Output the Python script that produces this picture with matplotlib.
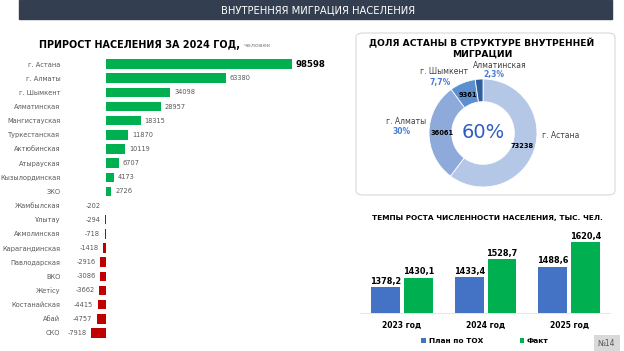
import numpy as np
import matplotlib.pyplot as plt
from matplotlib.patches import Rectangle, FancyBboxPatch

plt.rcParams['font.family'] = ['DejaVu Sans']

# --- данные ---
regions = ['г. Астана', 'г. Алматы', 'г. Шымкент', 'Алматинская', 'Мангистауская',
           'Туркестанская', 'Актюбинская', 'Атырауская', 'Кызылординская', 'ЗКО',
           'Жамбылская', 'Ұлытау', 'Акмолинская', 'Карагандинская', 'Павлодарская',
           'ВКО', 'Жетісу', 'Костанайская', 'Абай', 'СКО']
growth = [98598, 63380, 34098, 28957, 18315, 11870, 10119, 6707, 4173, 2726,
          -202, -294, -718, -1418, -2916, -3086, -3662, -4415, -4757, -7918]

donut_names = ['г. Астана', 'г. Алматы', 'г. Шымкент', 'Алматинская']
donut_values = [73238, 36061, 9361, 2800]
donut_pct = ['60%', '30%', '7,7%', '2,3%']

years = ['2023 год', '2024 год', '2025 год']
plan = [1378.2, 1433.4, 1488.6]
fact = [1430.1, 1528.7, 1620.4]

W, H = 624, 351
fig = plt.figure(figsize=(W / 100, H / 100), dpi=100)


def px_axes(x0, y0, x1, y1):
    return fig.add_axes([x0 / W, 1 - y1 / H, (x1 - x0) / W, (y1 - y0) / H])


def ftext(x, y, s, **kw):
    fig.text(x / W, 1 - y / H, s, **kw)


# шапка
fig.add_artist(Rectangle((19 / W, 1 - 19 / H), (612 - 19) / W, 19 / H,
                         transform=fig.transFigure, color='#333f50', zorder=-2))
ftext(318, 10, 'ВНУТРЕННЯЯ МИГРАЦИЯ НАСЕЛЕНИЯ', color='white', fontsize=7.2,
      ha='center', va='center')

# --- левый график ---
ax1 = px_axes(66, 57, 318, 340)
y = np.arange(len(regions))
colors = ['#00b050' if v > 0 else '#c00000' for v in growth]
ax1.barh(y, growth, height=0.67, color=colors)
ax1.set_ylim(len(regions) - 0.5, -0.5)
ax1.set_xlim(-21200, 112360)
ax1.set_yticks(y)
ax1.set_yticklabels(regions, fontsize=4.8, color='#595959')
ax1.tick_params(length=0, pad=4)
ax1.set_xticks([])
for s in ax1.spines.values():
    s.set_visible(False)
for i, v in enumerate(growth):
    if i == 0:
        ax1.text(v + 2100, i, f'{v}', va='center', ha='left', fontsize=6.2,
                 fontweight='bold', color='black')
    elif v > 0:
        ax1.text(v + 2100, i, f'{v}', va='center', ha='left', fontsize=4.8, color='#595959')
    else:
        ax1.text(v - 2400, i, f'{v}', va='center', ha='right', fontsize=4.8, color='#595959')

ftext(39, 45, 'ПРИРОСТ НАСЕЛЕНИЯ ЗА 2024 ГОД,', fontsize=6.9, fontweight='bold',
      va='center', ha='left')
ftext(244, 45.5, 'человек', fontsize=4.6, color='#7f7f7f', va='center', ha='left')

# --- кольцевая диаграмма ---
fig.add_artist(FancyBboxPatch((356 / W, 1 - 195 / H), (615 - 356) / W, (195 - 33) / H,
                              boxstyle='round,pad=0,rounding_size=0.012',
                              transform=fig.transFigure, facecolor='white',
                              edgecolor='#d9d9d9', linewidth=0.8, zorder=-1))
ftext(482, 48, 'ДОЛЯ АСТАНЫ В СТРУКТУРЕ ВНУТРЕННЕЙ\nМИГРАЦИИ', fontsize=6.6,
      fontweight='bold', ha='center', va='center', linespacing=1.15)

ax2 = px_axes(429, 79, 537, 187)
ax2.patch.set_visible(False)
donut_colors = ['#b4c7e7', '#8eaadb', '#5b8fd0', '#2e5f9e']
wedges, _ = ax2.pie(donut_values, colors=donut_colors, startangle=90,
                    counterclock=False, radius=1,
                    wedgeprops=dict(width=0.42, edgecolor='white', linewidth=0.6))
ax2.set_aspect('auto')
ax2.set_xlim(-1, 1)
ax2.set_ylim(-1, 1)
ax2.text(0, 0, donut_pct[0], ha='center', va='center', fontsize=14, color='#2f5cc0')
for i, w in enumerate(wedges[:3]):
    ang = np.deg2rad((w.theta1 + w.theta2) / 2)
    r = 0.76
    ax2.text(r * np.cos(ang), r * np.sin(ang), f'{donut_values[i]}', ha='center',
             va='center', fontsize=4.8, fontweight='bold', color='black')

blue_txt = '#4a7fd6'
ftext(542, 136, donut_names[0], fontsize=5.5, color='#404040', ha='left', va='center')
ftext(406, 121, donut_names[1], fontsize=5.5, color='#404040', ha='center', va='center')
ftext(402, 132, donut_pct[1], fontsize=5.5, color=blue_txt, ha='center', va='center',
      fontweight='bold')
ftext(444, 72, donut_names[2], fontsize=5.5, color='#404040', ha='center', va='center')
ftext(440, 82, donut_pct[2], fontsize=5.5, color=blue_txt, ha='center', va='center',
      fontweight='bold')
ftext(500, 66, donut_names[3], fontsize=5.5, color='#404040', ha='center', va='center')
ftext(494, 74, donut_pct[3], fontsize=5.5, color=blue_txt, ha='center', va='center',
      fontweight='bold')

# --- темпы роста ---
ftext(487, 218, 'ТЕМПЫ РОСТА ЧИСЛЕННОСТИ НАСЕЛЕНИЯ, ТЫС. ЧЕЛ.', fontsize=5.3,
      fontweight='bold', ha='center', va='center')
ax3 = px_axes(360, 230, 610, 313)
x = np.arange(len(years))
bw = 0.345
off = 0.196
b1 = ax3.bar(x - off, plan, width=bw, color='#4472c4', label='План по ТОХ')
b2 = ax3.bar(x + off, fact, width=bw, color='#00b050', label='Факт')
ax3.set_xlim(-0.503, 2.49)
ax3.set_ylim(1240, 1687)
for bars, vals in ((b1, plan), (b2, fact)):
    for b, v in zip(bars, vals):
        ax3.text(b.get_x() + b.get_width() / 2, v + 8, f'{v:.1f}'.replace('.', ','),
                 ha='center', va='bottom', fontsize=5.9, fontweight='bold')
ax3.set_xticks(x)
ax3.set_xticklabels(years, fontsize=5.5, fontweight='bold')
ax3.tick_params(length=0, pad=6)
ax3.set_yticks([])
for s in ('top', 'right', 'left'):
    ax3.spines[s].set_visible(False)
ax3.spines['bottom'].set_color('#e0e0e0')
ax3.spines['bottom'].set_linewidth(0.6)
fig.legend(handles=[b1, b2], loc='center', bbox_to_anchor=(485 / W, 1 - 341 / H),
           ncol=2, frameon=False, handlelength=0.6, handleheight=0.6,
           handletextpad=0.4, columnspacing=5, prop={'weight': 'bold', 'size': 5.3})

ftext(607, 343, '№14', fontsize=5.5, color='#595959', ha='center', va='center',
      bbox=dict(boxstyle='square,pad=0.5', facecolor='#d9d9d9', edgecolor='none'))

fig.savefig('out.png', dpi=100, facecolor='white')
